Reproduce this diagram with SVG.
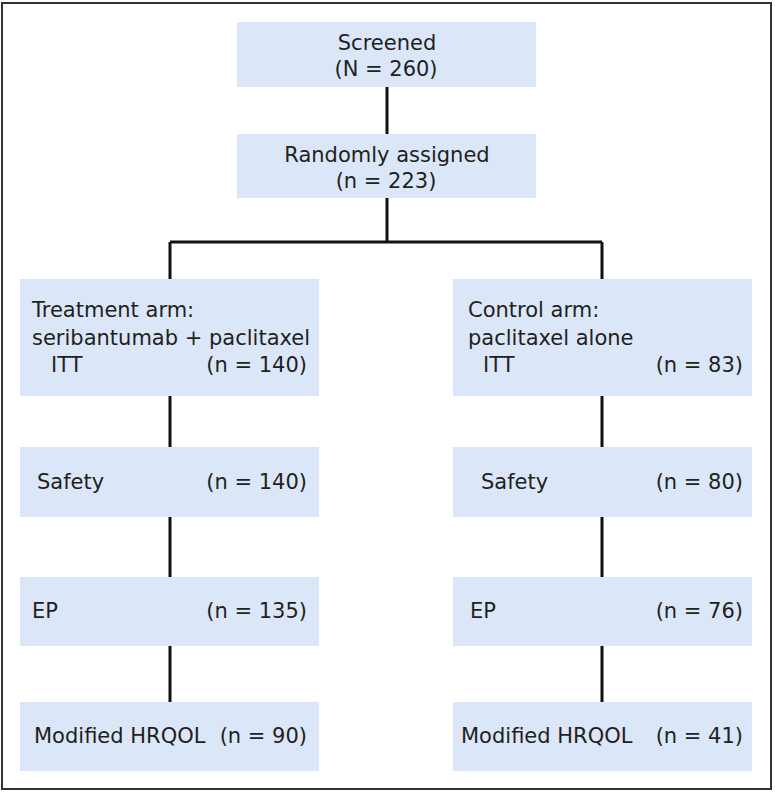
<svg xmlns="http://www.w3.org/2000/svg" width="776" height="792" viewBox="0 0 776 792">
<style>
.box{fill:#dbe7f9}
.t{font-family:"DejaVu Sans",sans-serif;font-size:21px;fill:#231f20}
.e{text-anchor:end}
.m{text-anchor:middle}
.c{stroke:#111;stroke-width:3;fill:none}
</style>
<rect x="0" y="0" width="776" height="792" fill="#fff"/>
<rect x="2" y="3" width="769" height="786" fill="none" stroke="#333" stroke-width="2"/>
<g id="connectors">
<path class="c" d="M387 87V134M387 198V242M170 242H602M170 242V279M602 242V279M170 396V447M602 396V447M170 517V577M602 517V577M170 646V702M602 646V702"/>
</g>
<g id="screened"><rect class="box" x="237" y="22" width="299" height="65"/><text class="t m" x="387" y="50">Screened</text><text class="t m" x="386" y="76">(N = 260)</text></g>
<g id="randomized"><rect class="box" x="237" y="134" width="299" height="64"/><text class="t m" x="387" y="162">Randomly assigned</text><text class="t m" x="386" y="188">(n = 223)</text></g>
<g id="treatment"><rect class="box" x="20" y="279" width="299" height="117"/><text class="t" x="32" y="317">Treatment arm:</text><text class="t" x="32" y="345">seribantumab + paclitaxel</text><text class="t" x="51" y="372">ITT</text><text class="t e" x="307" y="372">(n = 140)</text></g>
<g id="control"><rect class="box" x="453" y="279" width="299" height="117"/><text class="t" x="468" y="317">Control arm:</text><text class="t" x="468" y="345">paclitaxel alone</text><text class="t" x="483" y="372">ITT</text><text class="t e" x="743" y="372">(n = 83)</text></g>
<g id="safety-t"><rect class="box" x="20" y="447" width="299" height="70"/><text class="t" x="37" y="489">Safety</text><text class="t e" x="307" y="489">(n = 140)</text></g>
<g id="safety-c"><rect class="box" x="453" y="447" width="299" height="70"/><text class="t" x="481" y="489">Safety</text><text class="t e" x="743" y="489">(n = 80)</text></g>
<g id="ep-t"><rect class="box" x="20" y="577" width="299" height="69"/><text class="t" x="32" y="618">EP</text><text class="t e" x="307" y="618">(n = 135)</text></g>
<g id="ep-c"><rect class="box" x="453" y="577" width="299" height="69"/><text class="t" x="470" y="618">EP</text><text class="t e" x="743" y="618">(n = 76)</text></g>
<g id="hrqol-t"><rect class="box" x="20" y="702" width="299" height="69"/><text class="t" x="34" y="743">Modified HRQOL</text><text class="t e" x="307" y="743">(n = 90)</text></g>
<g id="hrqol-c"><rect class="box" x="453" y="702" width="299" height="69"/><text class="t" x="461" y="743">Modified HRQOL</text><text class="t e" x="743" y="743">(n = 41)</text></g>
</svg>
